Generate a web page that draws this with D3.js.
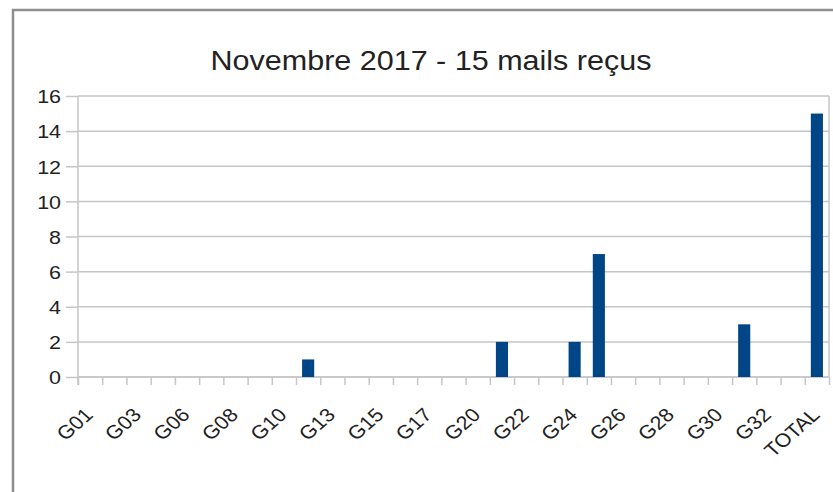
<!DOCTYPE html>
<html>
<head>
<meta charset="utf-8">
<script src="https://cdn.jsdelivr.net/npm/d3@7"></script>
<style>
  html, body { margin: 0; padding: 0; background: #fff; }
  svg { display: block; }
  text { font-family: "Liberation Sans", Arial, sans-serif; fill: #222; }
</style>
</head>
<body>
<svg id="chart" width="833" height="492"></svg>
<script>
// Mails received per group, November 2017
const chartTitle = "Novembre 2017 - 15 mails reçus";
const groups = ["G01","G02","G03","G04","G06","G07","G08","G09","G10","G11",
                "G13","G14","G15","G16","G17","G18","G20","G21","G22","G23",
                "G24","G25","G26","G27","G28","G29","G30","G31","G32","G33","TOTAL"];
const mails  = [0,0,0,0,0,0,0,0,0,1,
                0,0,0,0,0,0,0,2,0,0,
                2,7,0,0,0,0,0,3,0,0,15];
const yTicks = [0,2,4,6,8,10,12,14,16];

const W = 833, H = 492;
const plot = { left: 78, right: 829, top: 96, bottom: 377 };
const gridColor = "#c6c6c6";
const barColor = "#004586";
const widen = 1.13;   // horizontal stretch applied to the lettering

const svg = d3.select("#chart");

// outer frame
svg.append("rect")
  .attr("x", 13).attr("y", 10)
  .attr("width", W + 40).attr("height", H + 40)
  .attr("fill", "#fff")
  .attr("stroke", "#8e8e8e")
  .attr("stroke-width", 2.5);

function stretch(sel, k) {
  sel.each(function () {
    const len = this.getComputedTextLength();
    d3.select(this).attr("textLength", len * k).attr("lengthAdjust", "spacingAndGlyphs");
  });
}

// title
svg.append("text")
  .attr("x", 431).attr("y", 70)
  .attr("text-anchor", "middle")
  .style("font-size", "27px")
  .text(chartTitle)
  .call(stretch, widen);

// scales
const x = d3.scaleBand()
  .domain(groups)
  .range([plot.left, plot.right])
  .paddingInner(0.5)
  .paddingOuter(0.25);

const xEdge = d3.scaleLinear()
  .domain([0, groups.length])
  .range([plot.left, plot.right]);

const y = d3.scaleLinear()
  .domain([0, 16])
  .range([plot.bottom, plot.top]);

// horizontal gridlines
svg.append("g")
  .selectAll("line")
  .data(yTicks)
  .join("line")
  .attr("x1", plot.left).attr("x2", plot.right)
  .attr("y1", d => y(d)).attr("y2", d => y(d))
  .attr("stroke", gridColor).attr("stroke-width", 1.5);

// right border of plot area
svg.append("line")
  .attr("x1", plot.right).attr("x2", plot.right)
  .attr("y1", plot.top).attr("y2", plot.bottom)
  .attr("stroke", gridColor).attr("stroke-width", 1.5);

// y axis
const yAxis = svg.append("g")
  .attr("transform", `translate(${plot.left},0)`)
  .call(d3.axisLeft(y).tickValues(yTicks).tickSize(12).tickPadding(5).tickFormat(d3.format("d")));
yAxis.select(".domain").attr("stroke", gridColor).attr("stroke-width", 1.5)
  .attr("d", `M0,${plot.top}V${plot.bottom + 8}`);
yAxis.selectAll(".tick line").attr("stroke", gridColor).attr("stroke-width", 1.5);
yAxis.selectAll(".tick text")
  .style("font-size", "19px")
  .attr("fill", "#222")
  .attr("dy", "0.36em")
  .call(stretch, widen);

// x axis: ticks on category boundaries
const xAxis = svg.append("g")
  .attr("transform", `translate(0,${plot.bottom})`)
  .call(d3.axisBottom(xEdge).tickValues(d3.range(groups.length + 1)).tickSize(8).tickFormat(""));
xAxis.select(".domain").attr("stroke", gridColor).attr("stroke-width", 1.5)
  .attr("d", `M${plot.left},0H${plot.right}`);
xAxis.selectAll(".tick line").attr("stroke", gridColor).attr("stroke-width", 1.5);

// x labels, every other group, rotated 45 degrees
svg.append("g")
  .selectAll("text")
  .data(groups.filter((g, i) => i % 2 === 0))
  .join("text")
  .attr("text-anchor", "end")
  .style("font-size", "19px")
  .attr("transform", g =>
    `translate(${x(g) + x.bandwidth() / 2 + 4},${plot.bottom + 39}) scale(${widen},1) rotate(-45)`)
  .text(g => g);

// bars
svg.append("g")
  .selectAll("rect")
  .data(groups.map((g, i) => ({ g, v: mails[i] })).filter(d => d.v > 0))
  .join("rect")
  .attr("x", d => x(d.g))
  .attr("width", x.bandwidth())
  .attr("y", d => y(d.v))
  .attr("height", d => y(0) - y(d.v))
  .attr("fill", barColor);
</script>
</body>
</html>
